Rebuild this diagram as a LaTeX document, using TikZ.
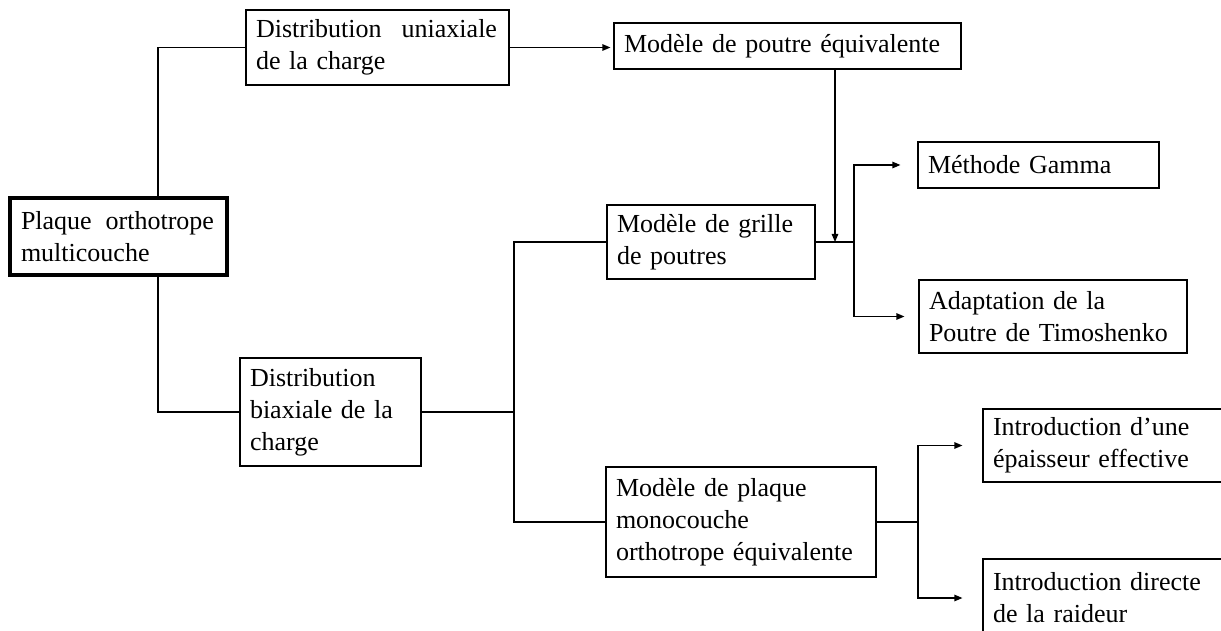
\documentclass[tikz,border=0pt]{standalone}
\usepackage{fontspec}
\setmainfont{Liberation Serif}
\usetikzlibrary{arrows.meta}

\begin{document}
\begin{tikzpicture}[x=1pt,y=-1pt,
  box/.style={draw, rectangle, line width=1.2pt, inner xsep=10pt, inner ysep=0pt,
    align=left, font=\fontsize{26pt}{32pt}\selectfont},
  link/.style={line width=1.2pt},
  arr/.style={line width=1.2pt, -{Triangle[length=8pt,width=6.5pt]}}]
\clip (0,0) rectangle (1221,631);
\fill[white] (0,0) rectangle (1221,631);

% boxes
\node[box, line width=4pt, inner xsep=11pt, minimum width=217pt, minimum height=77pt, text width=195pt]
  (plaque) at (118.5,236.5) {\hbox to 193pt{Plaque\hfill orthotrope}\\multicouche};
\node[box, minimum width=263pt, minimum height=75pt, text width=243pt]
  (uni) at (377.5,47.5) {\hbox to 241pt{Distribution\hfill uniaxiale}\\de la charge};
\node[box, minimum width=347pt, minimum height=46pt, text width=327pt]
  (poutre) at (787.5,46) {Modèle de poutre équivalente};
\node[box, minimum width=241pt, minimum height=46pt, text width=221pt]
  (gamma) at (1038.5,165) {Méthode Gamma};
\node[box, minimum width=208pt, minimum height=74pt, text width=188pt]
  (grille) at (711,242) {Modèle de grille\\de poutres};
\node[box, minimum width=268pt, minimum height=73pt, text width=248pt]
  (adapt) at (1053,316.5) {Adaptation de la\\Poutre de Timoshenko};
\node[box, minimum width=181pt, minimum height=108pt, text width=161pt]
  (bi) at (330.5,412) {Distribution\\biaxiale de la\\charge};
\node[box, minimum width=270pt, minimum height=110pt, text width=250pt]
  (mono) at (741,522) {Modèle de plaque\\monocouche\\orthotrope équivalente};
\node[box, minimum width=270pt, minimum height=73pt, text width=250pt]
  (intro1) at (1118,445.5) {Introduction d’une\\épaisseur effective};
\node[box, minimum width=270pt, minimum height=78pt, text width=250pt]
  (intro2) at (1118,598) {Introduction directe\\de la raideur};

% branching points
\coordinate (pu) at (158,0);
\coordinate (sp) at (514,412);
\coordinate (jp) at (835,242);
\coordinate (jg) at (854,242);
\coordinate (jm) at (918,522);

% connectors
\draw[link] (plaque.north -| pu) |- (uni.west);
\draw[link] (plaque.south -| pu) |- (bi.west);
\draw[arr, shorten >=3pt] (uni.east) -- (uni.east -| poutre.west);
\draw[line width=1.8pt] (bi.east) -- (sp);
\draw[link] (grille.west) -| (mono.west -| sp) -- (mono.west);
\draw[arr] (poutre.south -| jp) -- (jp);
\draw[link] (grille.east) -- (jg);
\draw[arr, shorten >=17pt] (jg) |- (gamma.west);
\draw[arr, shorten >=14pt] (jg) |- (adapt.west);
\draw[link] (mono.east) -- (jm);
\draw[arr, shorten >=20pt] (jm) |- (intro1.west);
\draw[arr, shorten >=20pt] (jm) |- (intro2.west);
\end{tikzpicture}
\end{document}
